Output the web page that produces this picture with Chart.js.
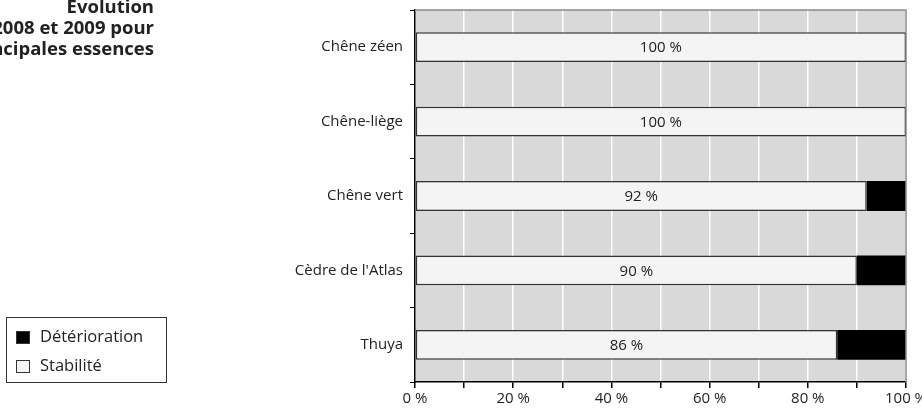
<!DOCTYPE html>
<html>
<head>
<meta charset="utf-8">
<script src="https://cdn.jsdelivr.net/npm/chart.js@4"></script>
<style>
  html, body { margin: 0; padding: 0; background: #fff; overflow: hidden; }
  #wrap { width: 922px; height: 411px; position: relative; }
</style>
</head>
<body>
<div id="wrap"><canvas id="chartEssences" width="922" height="411"></canvas></div>
<script>
// données
const essences = ['Chêne zéen', 'Chêne-liège', 'Chêne vert', "Cèdre de l'Atlas", 'Thuya'];
const stabilite = [100, 100, 92, 90, 86];
const deterioration = [0, 0, 8, 10, 14];
const xTicks = [0, 20, 40, 60, 80, 100];
const titreLignes = ['Evolution', 'entre 2008 et 2009 pour', 'les principales essences'];

const police = '"Open Sans", "Noto Sans", sans-serif';

// fond gris + bord droit de la zone de tracé
const fondPlugin = {
  id: 'fond',
  beforeDraw(chart) {
    const { ctx, chartArea: a } = chart;
    ctx.save();
    ctx.fillStyle = '#d9d9d9';
    ctx.fillRect(a.left, a.top, a.right - a.left, a.bottom - a.top);
    ctx.restore();
  },
  afterDraw(chart) {
    const { ctx, chartArea: a } = chart;
    ctx.save();
    ctx.strokeStyle = '#8a8a8a';
    ctx.lineWidth = 1.5;
    ctx.beginPath();
    ctx.moveTo(a.left, a.top);
    ctx.lineTo(a.right, a.top);
    ctx.lineTo(a.right, a.bottom);
    ctx.stroke();
    ctx.restore();
  }
};

// étiquettes "xx %" au centre des barres Stabilité
const etiquettesPlugin = {
  id: 'etiquettes',
  afterDatasetsDraw(chart) {
    const { ctx } = chart;
    const meta = chart.getDatasetMeta(0);
    ctx.save();
    ctx.font = '15px ' + police;
    ctx.fillStyle = '#222';
    ctx.textAlign = 'center';
    ctx.textBaseline = 'middle';
    meta.data.forEach((bar, i) => {
      const cx = (bar.x + bar.base) / 2;
      ctx.fillText(stabilite[i] + ' %', cx, bar.y + 1);
    });
    ctx.restore();
  }
};

// titre (coupé à gauche) et légende encadrée
const titreLegendePlugin = {
  id: 'titreLegende',
  afterDraw(chart) {
    const { ctx } = chart;
    ctx.save();
    ctx.font = 'bold 18.5px ' + police;
    ctx.fillStyle = '#222';
    ctx.textAlign = 'right';
    ctx.textBaseline = 'alphabetic';
    titreLignes.forEach((t, i) => ctx.fillText(t, 154, 13 + i * 21));

    ctx.strokeStyle = '#333';
    ctx.lineWidth = 1;
    ctx.strokeRect(6.5, 317.5, 160, 65);

    const items = [chart.data.datasets[1], chart.data.datasets[0]];
    ctx.font = '16.5px ' + police;
    ctx.textAlign = 'left';
    ctx.textBaseline = 'middle';
    items.forEach((ds, i) => {
      const y = 337 + i * 29;
      ctx.fillStyle = ds.backgroundColor;
      ctx.fillRect(16, y - 6, 14, 13);
      ctx.strokeStyle = '#333';
      ctx.strokeRect(16.5, y - 5.5, 13, 12);
      ctx.fillStyle = '#222';
      ctx.fillText(ds.label, 40, y);
    });
    ctx.restore();
  }
};

new Chart(document.getElementById('chartEssences'), {
  type: 'bar',
  data: {
    labels: essences,
    datasets: [
      {
        label: 'Stabilité',
        data: stabilite,
        backgroundColor: '#f4f4f4',
        borderColor: '#333',
        borderWidth: 1.5,
        borderSkipped: false,
        barPercentage: 0.4,
        categoryPercentage: 1
      },
      {
        label: 'Détérioration',
        data: deterioration,
        backgroundColor: '#000',
        borderWidth: 0,
        barPercentage: 0.4,
        categoryPercentage: 1
      }
    ]
  },
  options: {
    responsive: false,
    animation: false,
    indexAxis: 'y',
    layout: { padding: { top: 10, right: 16, bottom: 0, left: 0 } },
    plugins: {
      legend: { display: false },
      tooltip: { enabled: false }
    },
    scales: {
      x: {
        stacked: true,
        min: 0,
        max: 100,
        afterBuildTicks(scale) {
          scale.ticks = [];
          for (let v = 0; v <= 100; v += 10) scale.ticks.push({ value: v });
        },
        afterFit(scale) {
          scale.height = 29;
          scale.paddingLeft = 0;
          scale.paddingRight = 0;
        },
        grid: {
          color: '#ffffff',
          lineWidth: 1.5,
          tickColor: '#000',
          tickLength: 6
        },
        border: { color: '#000', width: 1.5 },
        ticks: {
          autoSkip: false,
          maxRotation: 0,
          padding: 2,
          color: '#222',
          font: { family: police, size: 15 },
          callback: (v) => (xTicks.includes(v) ? v + ' %' : '')
        }
      },
      y: {
        stacked: true,
        afterFit(scale) {
          scale.width = 415;
          scale.paddingTop = 0;
          scale.paddingBottom = 0;
        },
        grid: {
          offset: true,
          drawOnChartArea: false,
          tickColor: '#000',
          tickLength: 5
        },
        border: { color: '#000', width: 1.5 },
        ticks: {
          padding: 7,
          color: '#222',
          font: { family: police, size: 15 }
        }
      }
    }
  },
  plugins: [fondPlugin, etiquettesPlugin, titreLegendePlugin]
});
</script>
</body>
</html>
